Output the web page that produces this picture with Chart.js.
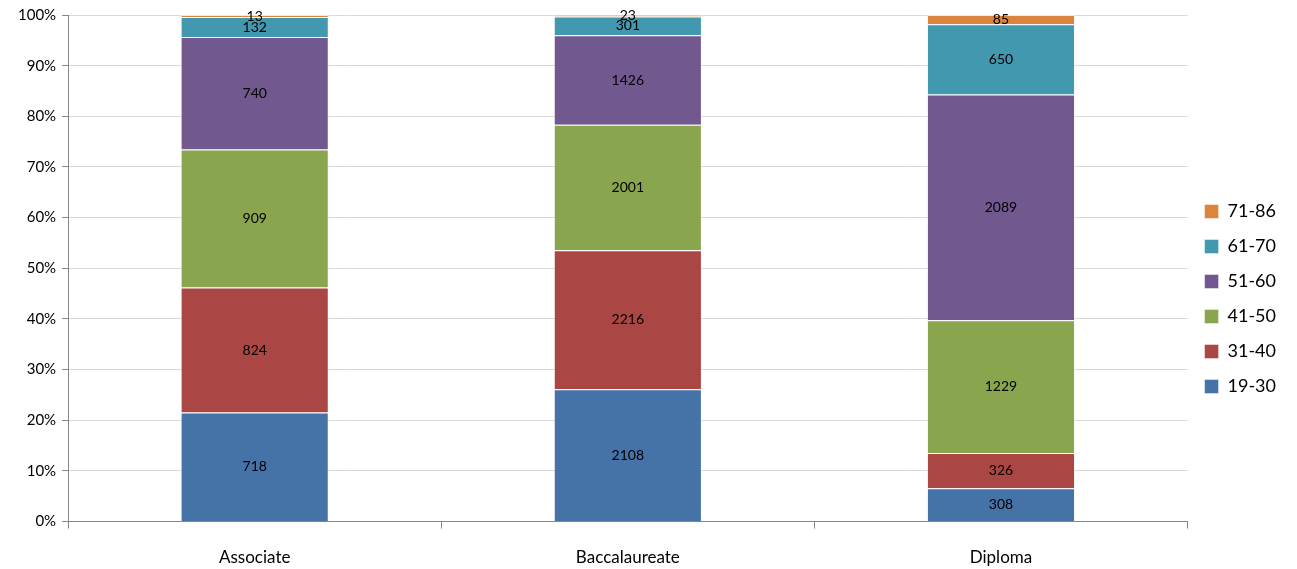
<!DOCTYPE html>
<html>
<head>
<meta charset="utf-8">
<script src="https://cdn.jsdelivr.net/npm/chart.js@4"></script>
<style>
    html, body { margin: 0; padding: 0; background: #fff; }
    #wrap { width: 1297px; height: 569px; }
</style>
</head>
<body>
<div id="wrap"><canvas id="chart"></canvas></div>
<script>
// categories and counts per age group
const categories = ["Associate", "Baccalaureate", "Diploma"];
const ageGroups = ["19-30", "31-40", "41-50", "51-60", "61-70", "71-86"];
const counts19to30 = [718, 2108, 308];
const counts31to40 = [824, 2216, 326];
const counts41to50 = [909, 2001, 1229];
const counts51to60 = [740, 1426, 2089];
const counts61to70 = [132, 301, 650];
const counts71to86 = [13, 23, 85];
const yTicks = [0, 10, 20, 30, 40, 50, 60, 70, 80, 90, 100];

const colors = ["#4572A7", "#AA4643", "#89A54E", "#71588F", "#4198AF", "#DB843D"];
const allCounts = [counts19to30, counts31to40, counts41to50, counts51to60, counts61to70, counts71to86];

// totals per category -> 100% stacked
const totals = categories.map((c, i) => allCounts.reduce((s, arr) => s + arr[i], 0));

const datasets = ageGroups.map((name, k) => ({
    label: name,
    counts: allCounts[k],
    data: allCounts[k].map((v, i) => (v / totals[i]) * 100),
    backgroundColor: colors[k],
    borderColor: "rgba(255,255,255,0.45)",
    borderWidth: 1,
    categoryPercentage: 1,
    barPercentage: 0.397,
}));

// draw the count in the middle of each segment
const countLabels = {
    id: "countLabels",
    afterDatasetsDraw(chart) {
        const ctx = chart.ctx;
        ctx.save();
        ctx.font = "14px Lato, 'Open Sans', sans-serif";
        ctx.fillStyle = "#000";
        ctx.textAlign = "center";
        ctx.textBaseline = "middle";
        chart.data.datasets.forEach((ds, di) => {
            chart.getDatasetMeta(di).data.forEach((bar, i) => {
                const mid = (bar.y + bar.base) / 2;
                ctx.fillText(String(ds.counts[i]), bar.x, mid);
            });
        });
        ctx.restore();
    },
};

new Chart(document.getElementById("chart").getContext("2d"), {
    type: "bar",
    data: { labels: categories, datasets },
    options: {
        responsive: true,
        maintainAspectRatio: false,
        animation: false,
        layout: { padding: { top: 11, right: 11, left: 12, bottom: -18 } },
        scales: {
            x: {
                stacked: true,
                grid: {
                    drawOnChartArea: false,
                    tickLength: 7,
                    tickColor: "#868686",
                    offset: true,
                },
                border: { color: "#868686" },
                ticks: {
                    color: "#000",
                    font: { size: 17, family: "Lato, 'Open Sans', sans-serif" },
                    padding: 19,
                },
            },
            y: {
                stacked: true,
                min: 0,
                max: 100,
                afterBuildTicks: (axis) => {
                    axis.ticks = yTicks.map((v) => ({ value: v }));
                },
                grid: {
                    color: "#d9d9d9",
                    tickColor: "#868686",
                    tickLength: 6,
                },
                border: { color: "#868686" },
                ticks: {
                    color: "#000",
                    font: { size: 15, family: "Lato, 'Open Sans', sans-serif" },
                    padding: 6,
                    callback: (v) => v + "%",
                },
            },
        },
        plugins: {
            legend: {
                position: "right",
                reverse: true,
                labels: {
                    color: "#000",
                    boxWidth: 14,
                    boxHeight: 14,
                    padding: 17,
                    font: { size: 18, family: "Lato, 'Open Sans', sans-serif" },
                },
            },
            tooltip: { enabled: false },
        },
    },
    plugins: [countLabels],
});
</script>
</body>
</html>
